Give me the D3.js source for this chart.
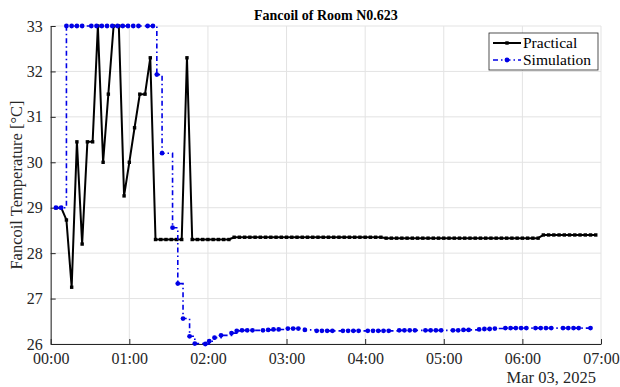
<!DOCTYPE html>
<html lang="en">
<head>
<meta charset="UTF-8">
<title>Fancoil of Room N0.623</title>
<script src="https://d3js.org/d3.v7.min.js"></script>
<style>
  body { margin: 0; background: #ffffff; }
  svg { display: block; font-family: "Liberation Serif", "Times New Roman", serif; }
</style>
</head>
<body>
<svg id="chart" width="620" height="387"></svg>
<script>
// Minutes after midnight (Mar 03, 2025) and measured fancoil temperature
const practicalMinutes = [
  4, 8, 12, 16, 20, 24, 28, 32, 36, 40, 44, 48, 52, 56, 60, 64, 68, 72, 76, 80,
  84, 88, 92, 96, 100, 104, 108, 112, 116, 120, 124, 128, 132, 136, 140, 144, 148, 152, 156, 160,
  164, 168, 172, 176, 180, 184, 188, 192, 196, 200, 204, 208, 212, 216, 220, 224, 228, 232, 236, 240,
  244, 248, 252, 256, 260, 264, 268, 272, 276, 280, 284, 288, 292, 296, 300, 304, 308, 312, 316, 320,
  324, 328, 332, 336, 340, 344, 348, 352, 356, 360, 364, 368, 372, 376, 380, 384, 388, 392, 396, 400,
  404, 408, 412, 416
];
const practicalTemp = [
  29.0, 29.0, 28.73, 27.25, 30.45, 28.2, 30.45, 30.45, 33.0, 30.0,
  31.5, 33.0, 33.0, 29.26, 30.0, 30.76, 31.5, 31.5, 32.3, 28.3,
  28.3, 28.3, 28.3, 28.3, 28.3, 32.3, 28.3, 28.3, 28.3, 28.3,
  28.3, 28.3, 28.3, 28.3, 28.35, 28.35, 28.35, 28.35, 28.35, 28.35,
  28.35, 28.35, 28.35, 28.35, 28.35, 28.35, 28.35, 28.35, 28.35, 28.35,
  28.35, 28.35, 28.35, 28.35, 28.35, 28.35, 28.35, 28.35, 28.35, 28.35,
  28.35, 28.35, 28.35, 28.33, 28.33, 28.33, 28.33, 28.33, 28.33, 28.33,
  28.33, 28.33, 28.33, 28.33, 28.33, 28.33, 28.33, 28.33, 28.33, 28.33,
  28.33, 28.33, 28.33, 28.33, 28.33, 28.33, 28.33, 28.33, 28.33, 28.33,
  28.33, 28.33, 28.33, 28.4, 28.4, 28.4, 28.4, 28.4, 28.4, 28.4,
  28.4, 28.4, 28.4, 28.4
];

// Simulation output (drawn as stairs)
const simulationMinutes = [
  4, 8, 12, 16, 20, 24, 31, 35, 39, 43, 47, 51, 55, 59, 63, 67, 74, 78,
  81, 85, 93, 97, 101, 106, 110, 118, 121, 125, 130,
  138, 142, 146, 150, 154, 162, 166, 170, 174, 181, 185, 189, 194,
  203, 207, 211, 215, 223, 227, 231, 235, 242, 246, 250, 254, 258,
  266, 270, 274, 278, 286, 290, 294, 298, 307, 311, 315, 319,
  327, 331, 335, 339, 347, 351, 355, 359, 363, 370, 374, 378, 382,
  391, 395, 399, 403, 412
];
const simulationTemp = [
  29.0, 29.0, 33, 33, 33, 33, 33, 33, 33, 33, 33, 33, 33, 33, 33, 33, 33, 33,
  31.93, 30.2, 28.56, 27.33, 26.56, 26.17, 26.01, 26.0, 26.06, 26.14, 26.19,
  26.24, 26.29, 26.3, 26.3, 26.3, 26.3, 26.31, 26.32, 26.32, 26.34, 26.34, 26.34, 26.31,
  26.29, 26.29, 26.29, 26.29, 26.29, 26.29, 26.29, 26.29, 26.29, 26.29, 26.29, 26.29, 26.29,
  26.3, 26.3, 26.3, 26.3, 26.3, 26.3, 26.3, 26.3, 26.3, 26.3, 26.31, 26.31,
  26.32, 26.33, 26.33, 26.34, 26.35, 26.35, 26.35, 26.35, 26.35, 26.35, 26.35, 26.35, 26.35,
  26.35, 26.35, 26.35, 26.35, 26.35
];

const yTicks = [26, 27, 28, 29, 30, 31, 32, 33];
const hourTicks = [0, 1, 2, 3, 4, 5, 6, 7];

const svg = d3.select("#chart");
const margin = {top: 26, right: 19, bottom: 43, left: 50.7};
const width = 620 - margin.left - margin.right;
const height = 387 - margin.top - margin.bottom;
const g = svg.append("g").attr("transform", `translate(${margin.left},${margin.top})`);

const day = new Date(2025, 2, 3, 0, 0);
const toDate = m => new Date(day.getTime() + m * 60000);

const x = d3.scaleTime().domain([toDate(0), toDate(420)]).range([0, width]);
const y = d3.scaleLinear().domain([26, 33]).range([height, 0]);

const practical = practicalMinutes.map((m, i) => ({t: toDate(m), v: practicalTemp[i]}));
const simulation = simulationMinutes.map((m, i) => ({t: toDate(m), v: simulationTemp[i]}));

// grid
g.append("g").selectAll("line").data(hourTicks).join("line")
  .attr("x1", d => x(toDate(d * 60))).attr("x2", d => x(toDate(d * 60)))
  .attr("y1", 0).attr("y2", height)
  .attr("stroke", "#e3e3e3").attr("stroke-width", 1);
g.append("g").selectAll("line").data(yTicks).join("line")
  .attr("x1", 0).attr("x2", width)
  .attr("y1", d => y(d)).attr("y2", d => y(d))
  .attr("stroke", "#e3e3e3").attr("stroke-width", 1);

// axes
const xAxis = d3.axisBottom(x)
  .tickValues(hourTicks.map(h => toDate(h * 60)))
  .tickFormat(d3.timeFormat("%H:%M"))
  .tickSizeInner(-5).tickSizeOuter(0).tickPadding(9);
const yAxis = d3.axisLeft(y).tickValues(yTicks).tickFormat(d3.format("d"))
  .tickSizeInner(-5).tickSizeOuter(0).tickPadding(8);

const gx = g.append("g").attr("transform", `translate(0,${height})`).call(xAxis);
const gy = g.append("g").call(yAxis);
[gx, gy].forEach(a => {
  a.select(".domain").attr("stroke", "#262626");
  a.selectAll(".tick line").attr("stroke", "#262626");
  a.selectAll(".tick text").attr("fill", "#262626")
    .style("font-family", "Liberation Serif").style("font-size", "16px");
});

g.append("text")
  .attr("x", width - 5).attr("y", height + 39)
  .attr("text-anchor", "end").attr("fill", "#262626")
  .style("font-size", "16.5px")
  .text("Mar 03, 2025");

// title + y label
svg.append("text")
  .attr("x", margin.left + width / 2).attr("y", 20)
  .attr("text-anchor", "middle").attr("font-weight", "bold")
  .style("font-size", "14px").attr("fill", "#000")
  .text("Fancoil of Room N0.623");

svg.append("text")
  .attr("transform", "rotate(-90)")
  .attr("x", -(margin.top + height / 2)).attr("y", 22)
  .attr("text-anchor", "middle").attr("fill", "#262626")
  .style("font-size", "16.5px")
  .text("Fancoil Temperature [°C]");

// practical series
const linePractical = d3.line().x(d => x(d.t)).y(d => y(d.v));
g.append("path").datum(practical)
  .attr("d", linePractical)
  .attr("fill", "none").attr("stroke", "#000").attr("stroke-width", 2)
  .attr("stroke-linejoin", "round");
g.append("g").selectAll("rect").data(practical).join("rect")
  .attr("x", d => x(d.t) - 1.7).attr("y", d => y(d.v) - 1.7)
  .attr("width", 3.4).attr("height", 3.4)
  .attr("fill", "#000");

// simulation series
const lineSim = d3.line().curve(d3.curveStepAfter).x(d => x(d.t)).y(d => y(d.v));
g.append("path").datum(simulation)
  .attr("d", lineSim)
  .attr("fill", "none").attr("stroke", "#0000e6").attr("stroke-width", 1.6)
  .attr("stroke-dasharray", "5,3,1.5,3");
g.append("g").selectAll("circle").data(simulation).join("circle")
  .attr("cx", d => x(d.t)).attr("cy", d => y(d.v)).attr("r", 2.4)
  .attr("fill", "#0000e6");

// legend
const legend = svg.append("g").attr("transform", "translate(489,33)");
legend.append("rect")
  .attr("width", 109).attr("height", 37)
  .attr("fill", "#fff").attr("stroke", "#262626").attr("stroke-width", 0.8);
const items = [
  {name: "Practical", color: "#000", dash: null, marker: "square", w: 2},
  {name: "Simulation", color: "#0000e6", dash: "5,3,1.5,3", marker: "circle", w: 1.6}
];
items.forEach((it, i) => {
  const yy = 10 + i * 17;
  legend.append("line").attr("x1", 4).attr("x2", 32).attr("y1", yy).attr("y2", yy)
    .attr("stroke", it.color).attr("stroke-width", it.w)
    .attr("stroke-dasharray", it.dash);
  if (it.marker === "square") {
    legend.append("rect").attr("x", 16.3).attr("y", yy - 1.7).attr("width", 3.4).attr("height", 3.4)
      .attr("fill", it.color);
  } else {
    legend.append("circle").attr("cx", 18).attr("cy", yy).attr("r", 2.4).attr("fill", it.color);
  }
  legend.append("text").attr("x", 34).attr("y", yy + 5)
    .attr("fill", "#000").style("font-size", "15.5px").text(it.name);
});
</script>
</body>
</html>
